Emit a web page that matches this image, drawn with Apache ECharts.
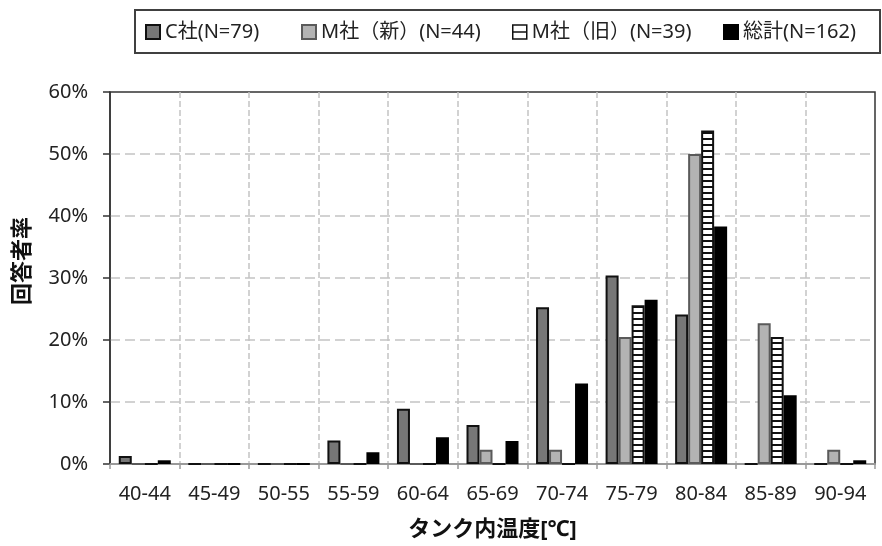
<!DOCTYPE html>
<html>
<head>
<meta charset="utf-8">
<script src="https://cdn.jsdelivr.net/npm/echarts@6/dist/echarts.min.js"></script>
<style>
html,body{margin:0;padding:0;background:#fff;}
#main{width:882px;height:546px;}
</style>
</head>
<body>
<div id="main"></div>
<script>
// ---- data ----
const categories = ['40-44','45-49','50-55','55-59','60-64','65-69','70-74','75-79','80-84','85-89','90-94'];
const seriesNames = ['C社(N=79)','M社（新）(N=44)','M社（旧）(N=39)','総計(N=162)'];
const valuesC     = [1.3, 0, 0, 3.8, 8.9, 6.3, 25.3, 30.4, 24.1, 0, 0];
const valuesMNew  = [0, 0, 0, 0, 0, 2.3, 2.3, 20.5, 50.0, 22.7, 2.3];
const valuesMOld  = [0, 0, 0, 0, 0, 0, 0, 25.6, 53.8, 20.5, 0];
const valuesTotal = [0.6, 0, 0, 1.9, 4.3, 3.7, 13.0, 26.5, 38.3, 11.1, 0.6];
const yTickMax = 60, yTickStep = 10;
const xAxisTitle = 'タンク内温度[℃]';
const yAxisTitle = '回答者率';

// ---- styles ----
const FONT = '"Noto Sans", "Noto Sans CJK JP", sans-serif';
const stripe = document.createElement('canvas');
stripe.width = 6; stripe.height = 6;
(function(){
  const c = stripe.getContext('2d');
  c.fillStyle = '#ffffff'; c.fillRect(0,0,6,6);
  c.fillStyle = '#111111'; c.fillRect(0,0,6,2);
})();

const legendLefts = [145, 301, 512, 723];
const legendIcons = [
  {icon: 'rect'},
  {icon: 'rect'},
  {icon: 'path://M1,1L13,1L13,13L1,13Z M1,7L13,7', itemStyle: {color: '#fff', borderColor: '#111', borderWidth: 1.5}},
  {icon: 'rect'}
];
const legends = seriesNames.map((n, i) => ({
  left: legendLefts[i], top: 22, padding: 0,
  itemWidth: 14, itemHeight: 14,
  textStyle: {fontFamily: FONT, fontSize: 20, color: '#222'},
  data: [Object.assign({name: n}, legendIcons[i])]
}));

const chart = echarts.init(document.getElementById('main'), null, {renderer:'canvas'});
const barW = 13;
chart.setOption({
  animation: false,
  backgroundColor: '#ffffff',
  grid: {left: 110, right: 7, top: 92, bottom: 81, show: true, borderColor: '#333', borderWidth: 1.5, backgroundColor: 'transparent'},
  legend: legends,
  graphic: [
    {type: 'rect', shape: {x: 135, y: 10, width: 745, height: 43}, style: {fill: 'none', stroke: '#404040', lineWidth: 2}, z: 10},
    {type: 'text', x: 23, y: 261, rotation: Math.PI / 2,
     style: {text: yAxisTitle, font: 'bold 22px ' + FONT, fill: '#111', textAlign: 'center', textVerticalAlign: 'middle'}}
  ],
  xAxis: {
    type: 'category', data: categories,
    name: xAxisTitle, nameLocation: 'middle', nameGap: 55,
    nameTextStyle: {fontFamily: FONT, fontSize: 22, fontWeight: 'bold', color: '#111'},
    axisLine: {lineStyle: {color: '#999', width: 2}},
    axisTick: {show: true, length: 5, lineStyle: {color: '#999', width: 1.5}},
    axisLabel: {fontFamily: FONT, fontSize: 20, color: '#222', margin: 20, interval: 0},
    splitLine: {show: true, interval: 0, showMinLine: false, showMaxLine: false, lineStyle: {color: '#c4c4c4', type: [6, 3], width: 1.5}}
  },
  yAxis: {
    type: 'value', min: 0, max: yTickMax, interval: yTickStep,
    axisLine: {show: true, lineStyle: {color: '#333', width: 1.5}},
    axisTick: {show: true, length: 7, lineStyle: {color: '#333', width: 1.5}},
    axisLabel: {fontFamily: FONT, fontSize: 20, color: '#222', margin: 22, formatter: '{value}%'},
    splitLine: {show: true, showMinLine: false, showMaxLine: false, lineStyle: {color: '#c4c4c4', type: [10, 5], width: 1.5}}
  },
  series: [
    {name: seriesNames[0], type: 'bar', data: valuesC, barWidth: barW, barGap: '0%',
     itemStyle: {color: '#777777', borderColor: '#111', borderWidth: 2}},
    {name: seriesNames[1], type: 'bar', data: valuesMNew, barWidth: barW, barGap: '0%',
     itemStyle: {color: '#b3b3b3', borderColor: '#5a5a5a', borderWidth: 2}},
    {name: seriesNames[2], type: 'bar', data: valuesMOld, barWidth: barW, barGap: '0%',
     itemStyle: {color: {image: stripe, repeat: 'repeat'}, borderColor: '#111', borderWidth: 2}},
    {name: seriesNames[3], type: 'bar', data: valuesTotal, barWidth: barW, barGap: '0%',
     itemStyle: {color: '#000000', borderColor: '#000', borderWidth: 2}}
  ]
});
</script>
</body>
</html>
